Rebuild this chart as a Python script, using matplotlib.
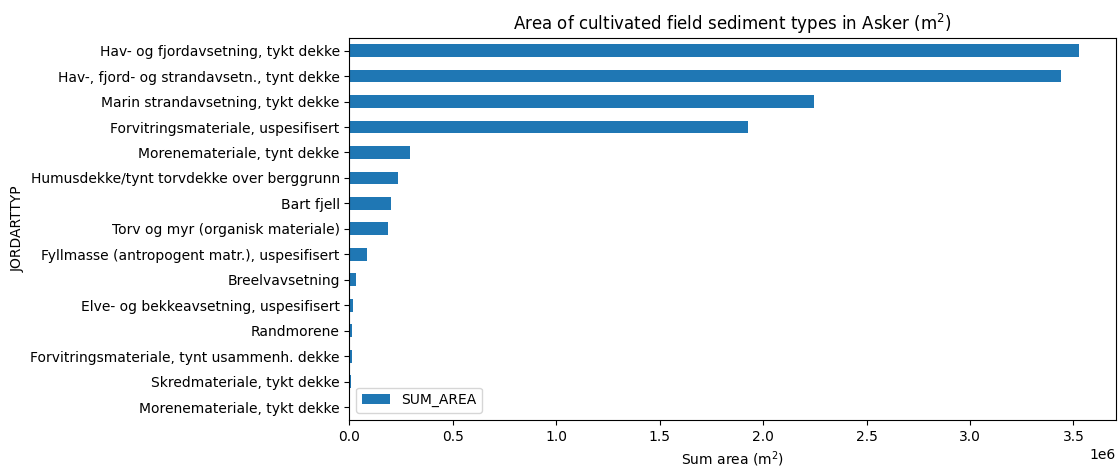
import matplotlib
matplotlib.use("Agg")
import matplotlib.pyplot as plt
import pandas as pd

categories = [
    "Hav- og fjordavsetning, tykt dekke",
    "Hav-, fjord- og strandavsetn., tynt dekke",
    "Marin strandavsetning, tykt dekke",
    "Forvitringsmateriale, uspesifisert",
    "Morenemateriale, tynt dekke",
    "Humusdekke/tynt torvdekke over berggrunn",
    "Bart fjell",
    "Torv og myr (organisk materiale)",
    "Fyllmasse (antropogent matr.), uspesifisert",
    "Breelvavsetning",
    "Elve- og bekkeavsetning, uspesifisert",
    "Randmorene",
    "Forvitringsmateriale, tynt usammenh. dekke",
    "Skredmateriale, tykt dekke",
    "Morenemateriale, tykt dekke",
]
sum_area = [3.528e6, 3.440e6, 2.247e6, 1.928e6, 0.293e6, 0.234e6, 0.201e6,
            0.186e6, 0.084e6, 0.031e6, 0.016e6, 0.012e6, 0.011e6, 0.007e6, 0.002e6]

df = pd.DataFrame({"JORDARTTYP": categories, "SUM_AREA": sum_area}).set_index("JORDARTTYP")
df = df.iloc[::-1]

fig = plt.figure(figsize=(11.18, 4.68), dpi=100)
ax = fig.add_axes([0.3125, 0.103, 0.6855, 0.816])
df.plot.barh(ax=ax)
ax.set_title("Area of cultivated field sediment types in Asker (m$^2$)")
ax.set_xlabel("Sum area (m$^2$)")
ax.set_ylabel("JORDARTTYP")
ax.legend(loc="lower left")
fig.savefig("out.png", dpi=100)
